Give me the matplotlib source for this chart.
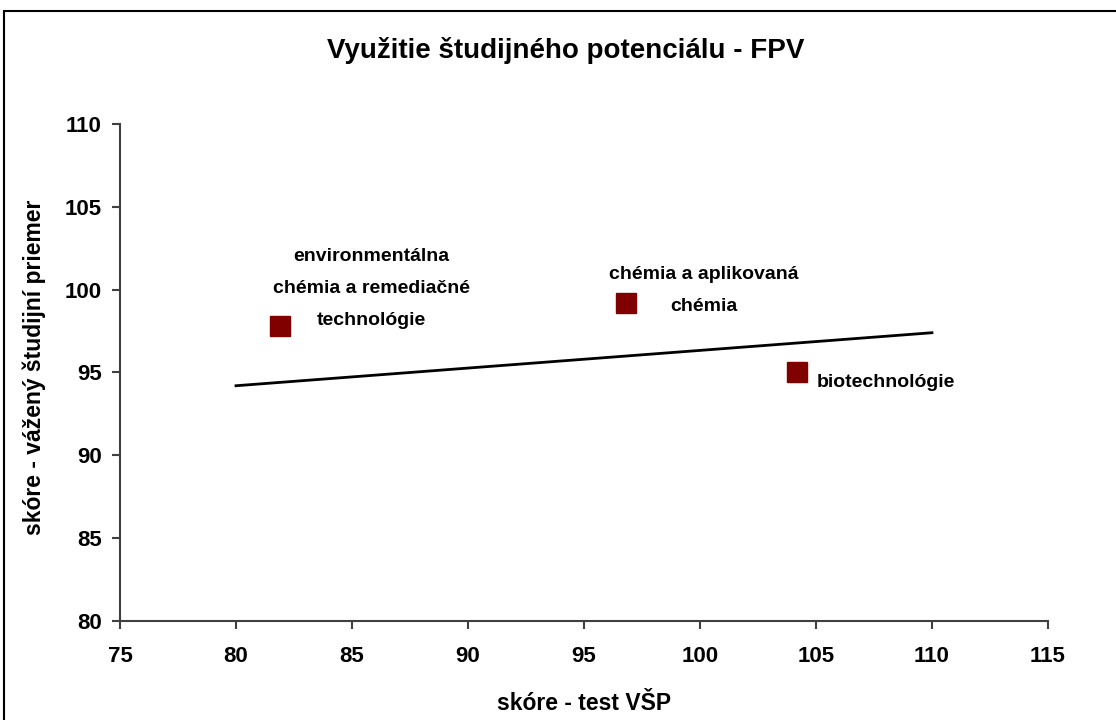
import matplotlib.pyplot as plt
from matplotlib.patches import Rectangle

plt.rcParams['font.family'] = ['Liberation Sans', 'DejaVu Sans']
plt.rcParams['font.weight'] = 'bold'

programs = ["environmentálna\nchémia a remediačné\ntechnológie",
            "chémia a aplikovaná\nchémia",
            "biotechnológie"]
vsp_score = [81.9, 96.8, 104.2]
avg_score = [97.8, 99.2, 95.0]

trend_x = [80, 110]
trend_y = [94.2, 97.4]

fig = plt.figure(figsize=(11.16, 7.2), dpi=100)
ax = fig.add_axes([0.1075, 0.1375, 0.8315, 0.6903])

# outer chart frame
fig.patches.append(Rectangle((4 / 1116, -0.05), 1.1, 1 - 11 / 720 + 0.05,
                             transform=fig.transFigure, fill=False,
                             edgecolor='black', linewidth=1.5))

ax.plot(trend_x, trend_y, color='black', linewidth=2)
ax.plot(vsp_score, avg_score, linestyle='none', marker='s', markersize=14,
        color='#800000')

label_offsets = [(3.95, 2.25), (3.35, 0.75), (0.85, -0.6)]
label_align = ['center', 'center', 'left']
for i, name in enumerate(programs):
    dx, dy = label_offsets[i]
    ax.text(vsp_score[i] + dx, avg_score[i] + dy, name, fontsize=14,
            fontweight='bold', ha=label_align[i], va='center',
            multialignment='center', linespacing=2.15)

ax.set_xlim(75, 115)
ax.set_ylim(80, 110)
ax.set_xticks(range(75, 116, 5))
ax.set_yticks(range(80, 111, 5))
ax.tick_params(direction='out', length=6, width=1.5, color='#404040',
               labelsize=16)
ax.tick_params(axis='x', pad=12)
ax.tick_params(axis='y', pad=7)
for lab in ax.get_xticklabels() + ax.get_yticklabels():
    lab.set_fontweight('bold')

for side in ['top', 'right']:
    ax.spines[side].set_visible(False)
for side in ['left', 'bottom']:
    ax.spines[side].set_linewidth(1.5)
    ax.spines[side].set_color('#404040')

ax.set_xlabel("skóre - test VŠP", fontsize=16.5, fontweight='bold')
ax.set_ylabel("skóre - vážený študijní priemer", fontsize=16.5,
              fontweight='bold')
ax.xaxis.set_label_coords(0.5, -0.143)
ax.yaxis.set_label_coords(-0.08, 0.51)
fig.text(0.507, 0.93, "Využitie študijného potenciálu - FPV", fontsize=20,
         fontweight='bold', ha='center', va='center')

fig.savefig("out.png", dpi=100)
